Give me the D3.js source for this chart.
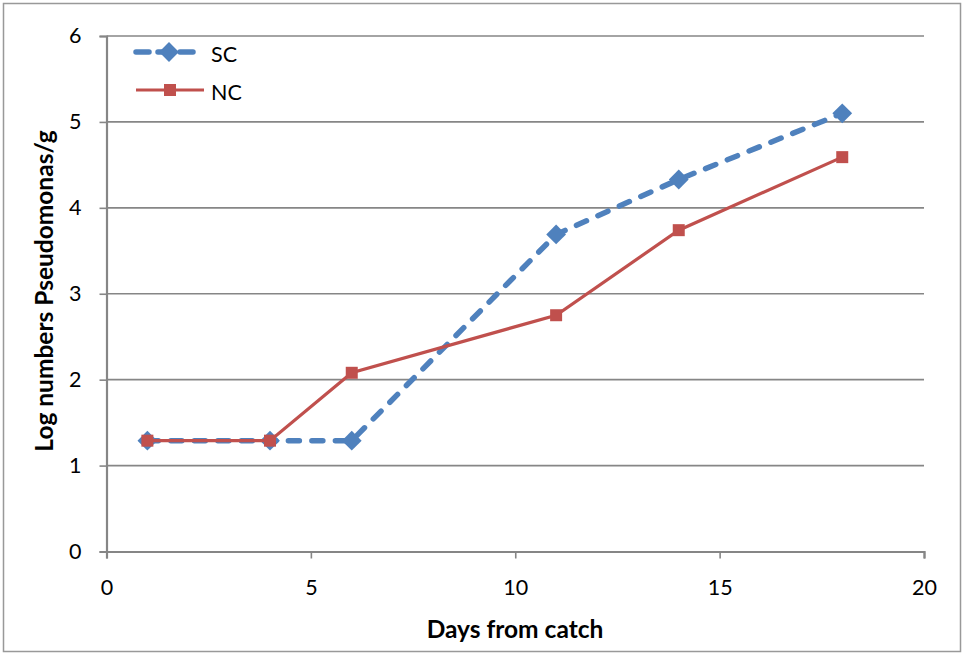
<!DOCTYPE html>
<html>
<head>
<meta charset="utf-8">
<script src="https://cdn.jsdelivr.net/npm/d3@7"></script>
<style>
  html, body { margin: 0; padding: 0; background: #fff; }
  svg { display: block; font-family: Lato, "Open Sans", "Liberation Sans", sans-serif; }
</style>
</head>
<body>
<svg id="chart" width="964" height="655"></svg>
<script>
// Days after catch at which samples were taken
const days = [1, 4, 6, 11, 14, 18];
// Log Pseudomonas counts per gram for each storage condition
const scValues = [1.29, 1.29, 1.29, 3.69, 4.33, 5.10];
const ncValues = [1.29, 1.29, 2.08, 2.75, 3.74, 4.59];
const seriesNames = ["SC", "NC"];
const xTicks = [0, 5, 10, 15, 20];
const yTicks = [0, 1, 2, 3, 4, 5, 6];

const svg = d3.select("#chart");
const W = 964, H = 655;

// outer frame
svg.append("rect")
  .attr("x", 3.5).attr("y", 3.5)
  .attr("width", W - 7).attr("height", H - 7)
  .attr("fill", "#fff").attr("stroke", "#999").attr("stroke-width", 1.5);

const plot = { left: 106.5, right: 924, top: 36, bottom: 551.5 };

const x = d3.scaleLinear().domain([0, 20]).range([plot.left, plot.right]);
const y = d3.scaleLinear().domain([0, 6]).range([plot.bottom, plot.top]);

const gridColor = "#868686";
const tickFont = 21.5;

// horizontal gridlines
svg.append("g")
  .selectAll("line")
  .data(yTicks.filter(v => v > 0))
  .join("line")
  .attr("x1", plot.left).attr("x2", plot.right)
  .attr("y1", d => y(d)).attr("y2", d => y(d))
  .attr("stroke", gridColor).attr("stroke-width", 1.6);

// y axis
const yAxis = svg.append("g")
  .attr("transform", `translate(${plot.left},0)`)
  .call(d3.axisLeft(y).tickValues(yTicks).tickSize(7).tickPadding(18).tickFormat(d3.format("d")));
yAxis.select(".domain").attr("stroke", gridColor).attr("stroke-width", 2.2);
yAxis.selectAll(".tick line").attr("stroke", gridColor).attr("stroke-width", 1.6);
yAxis.selectAll(".tick text")
  .attr("font-size", tickFont).attr("fill", "#000")
  .attr("font-family", "Lato, 'Open Sans', sans-serif");

// x axis
const xAxis = svg.append("g")
  .attr("transform", `translate(0,${plot.bottom})`)
  .call(d3.axisBottom(x).tickValues(xTicks).tickSize(7).tickPadding(21).tickFormat(d3.format("d")));
xAxis.select(".domain").attr("stroke", gridColor).attr("stroke-width", 2.2);
xAxis.selectAll(".tick line").attr("stroke", gridColor).attr("stroke-width", 1.6);
xAxis.selectAll(".tick text")
  .attr("font-size", tickFont).attr("fill", "#000")
  .attr("font-family", "Lato, 'Open Sans', sans-serif");

// axis titles
svg.append("text")
  .attr("x", 515).attr("y", 638)
  .attr("text-anchor", "middle")
  .attr("font-size", 24.5).attr("font-weight", "bold")
  .text("Days from catch");

svg.append("text")
  .attr("transform", "translate(53,291) rotate(-90)")
  .attr("text-anchor", "middle")
  .attr("font-size", 24.5).attr("font-weight", "bold")
  .text("Log numbers Pseudomonas/g");

const blue = "#4F81BD", red = "#C0504D";
const line = d3.line().x(d => x(d[0])).y(d => y(d[1]));

const scData = days.map((d, i) => [d, scValues[i]]);
const ncData = days.map((d, i) => [d, ncValues[i]]);

const diamond = d3.symbol().type(d3.symbolSquare).size(196); // drawn rotated 45°
const square = d3.symbol().type(d3.symbolSquare).size(144);
const dash = "11,12.5";

// SC: dashed line with diamonds
svg.append("path")
  .datum(scData)
  .attr("d", line)
  .attr("fill", "none").attr("stroke", blue)
  .attr("stroke-width", 5.5).attr("stroke-dasharray", dash)
  .attr("stroke-linecap", "round");

svg.append("g").selectAll("path")
  .data(scData).join("path")
  .attr("transform", d => `translate(${x(d[0])},${y(d[1])}) rotate(45)`)
  .attr("d", diamond)
  .attr("fill", blue);

// NC: solid line with squares
svg.append("path")
  .datum(ncData)
  .attr("d", line)
  .attr("fill", "none").attr("stroke", red).attr("stroke-width", 3.2);

svg.append("g").selectAll("path")
  .data(ncData).join("path")
  .attr("transform", d => `translate(${x(d[0])},${y(d[1])})`)
  .attr("d", square)
  .attr("fill", red);

// legend
const legend = svg.append("g");
legend.append("line")
  .attr("x1", 136).attr("x2", 196).attr("y1", 52).attr("y2", 52)
  .attr("stroke", blue).attr("stroke-width", 5.5)
  .attr("stroke-dasharray", "13,9").attr("stroke-linecap", "round");
legend.append("path")
  .attr("transform", "translate(169,52) rotate(45)")
  .attr("d", diamond)
  .attr("fill", blue);
legend.append("text")
  .attr("x", 211).attr("y", 62).attr("font-size", tickFont).text(seriesNames[0]);

legend.append("line")
  .attr("x1", 136).attr("x2", 204).attr("y1", 90).attr("y2", 90)
  .attr("stroke", red).attr("stroke-width", 3.2);
legend.append("path")
  .attr("transform", "translate(170,90)")
  .attr("d", square)
  .attr("fill", red);
legend.append("text")
  .attr("x", 211).attr("y", 100).attr("font-size", tickFont).text(seriesNames[1]);
</script>
</body>
</html>
